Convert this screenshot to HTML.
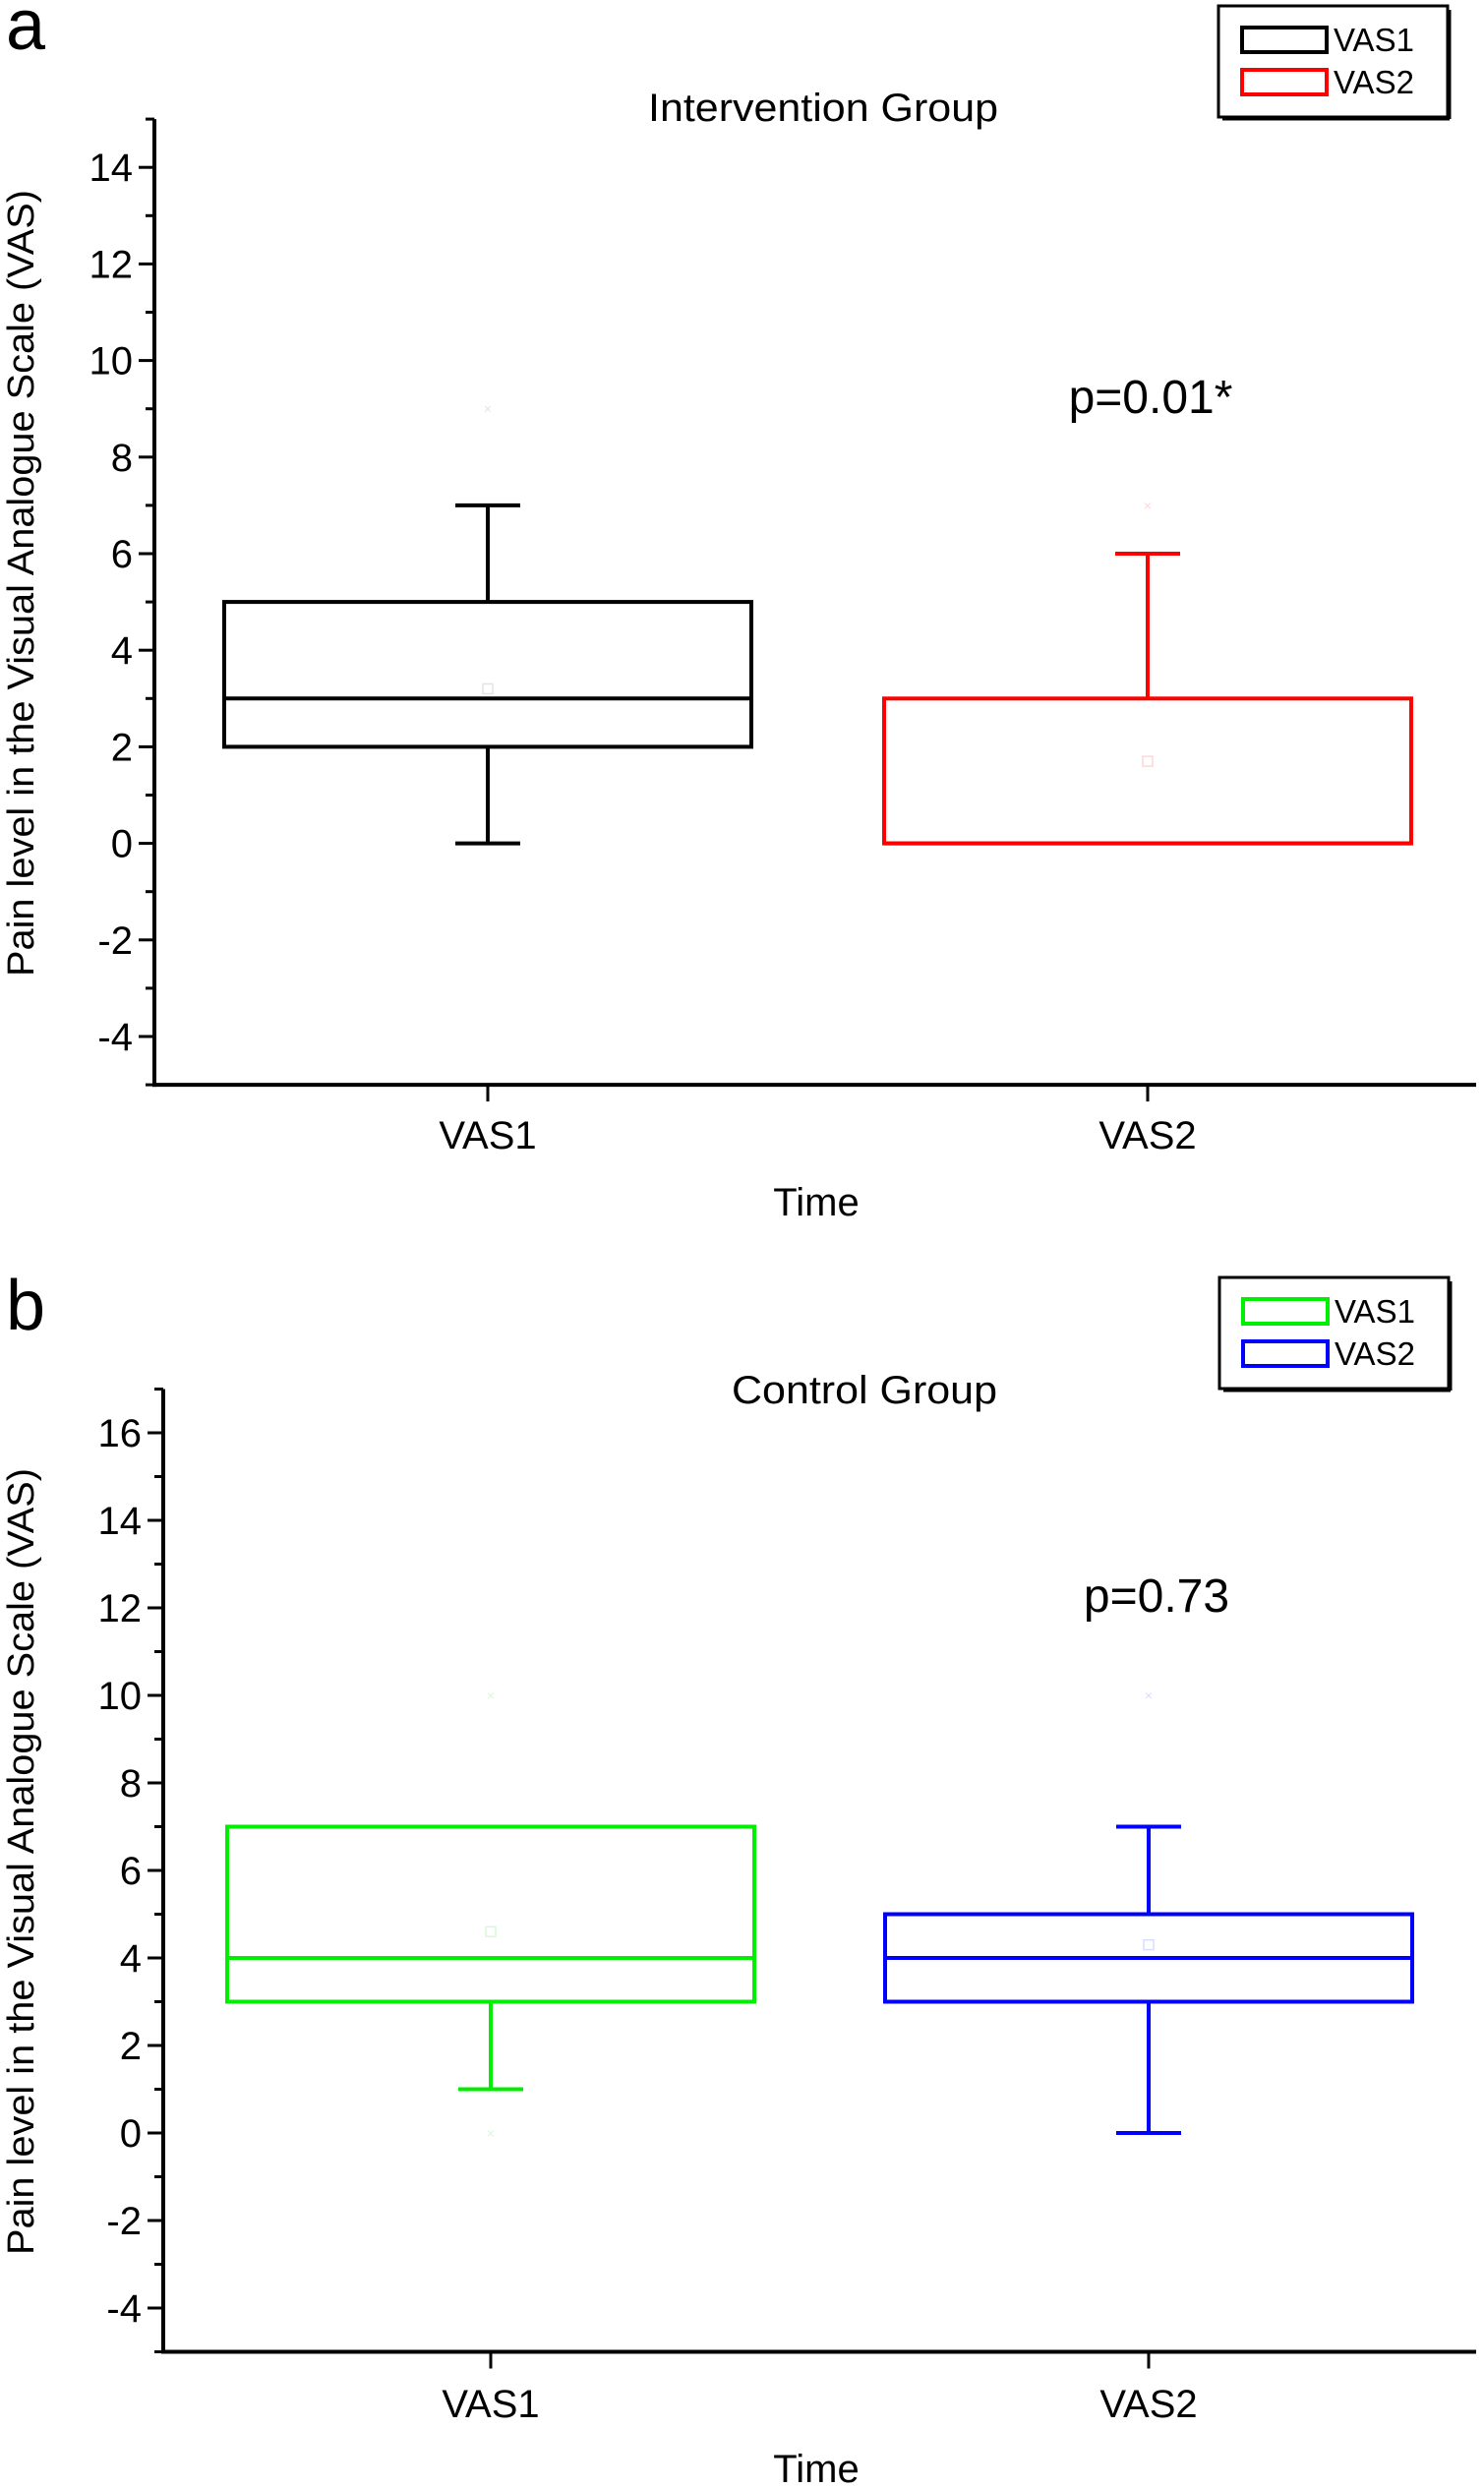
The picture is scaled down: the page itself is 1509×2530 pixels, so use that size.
<!DOCTYPE html>
<html><head><meta charset="utf-8"><style>
html,body{margin:0;padding:0;background:#fff;}
svg{display:block;font-family:"Liberation Sans",Arial,sans-serif;}
</style></head><body>
<svg id="chart" width="1509" height="2530" viewBox="0 0 1509 2530" xmlns="http://www.w3.org/2000/svg"></svg>
<script>
const categories = ["VAS1","VAS2"];
const aMin=[0,0], aQ1=[2,0], aMed=[3,0], aQ3=[5,3], aMax=[7,6], aMean=[3.2,1.7], aOut=[[9],[7]];
const bMin=[1,0], bQ1=[3,3], bMed=[4,4], bQ3=[7,5], bMax=[7,7], bMean=[4.6,4.3], bOut=[[10,0],[10]];
const aTicks=[-4,-2,0,2,4,6,8,10,12,14];
const bTicks=[-4,-2,0,2,4,6,8,10,12,14,16];
const NS="http://www.w3.org/2000/svg";
const svg=document.getElementById('chart');
function mk(tag,attrs,parent,text){const e=document.createElementNS(NS,tag);for(const k in attrs)e.setAttribute(k,attrs[k]);if(text!==undefined)e.textContent=text;(parent||svg).appendChild(e);return e;}

function panel(cfg){
  const g=mk('g',{});
  
  
  const y=v=>cfg.y0-(v)*cfg.unit;
  const xc=i=>cfg.cx[i];
  const lbl=mk('text',{x:6,y:cfg.letterY,'font-size':72,fill:'#000'},g,cfg.letter);
  
  
  const t=mk('text',{x:cfg.titleX,y:cfg.titleY,'font-size':40,'text-anchor':'middle',fill:'#000',textLength:cfg.titleLen,lengthAdjust:'spacingAndGlyphs'},g,cfg.title);
  
  
  const ya=mk('line',{x1:cfg.ax,y1:y(cfg.top),x2:cfg.ax,y2:y(cfg.bot)+2,stroke:'#000','stroke-width':4},g);
  
  
  const xa=mk('line',{x1:cfg.ax-2,y1:y(cfg.bot),x2:1501,y2:y(cfg.bot),stroke:'#000','stroke-width':4},g);
  
  
  for(let v=Math.ceil(cfg.bot);v<=cfg.top;v++){
    const major=cfg.ticks.includes(v);
    const tk=mk('line',{x1:cfg.ax-(major?16:9),y1:y(v),x2:cfg.ax,y2:y(v),stroke:'#000','stroke-width':3},g);
    
    
  }
  cfg.ticks.forEach(v=>{
    const tl=mk('text',{x:cfg.ax-22,y:y(v)+14,'font-size':40,'text-anchor':'end',fill:'#000'},g,String(v));
    
    
  });
  const yt=mk('text',{x:0,y:0,'font-size':38,'text-anchor':'middle',fill:'#000',textLength:cfg.ylabLen,lengthAdjust:'spacingAndGlyphs',transform:`translate(34,${cfg.ylabY}) rotate(-90)`},g,'Pain level in the Visual Analogue Scale (VAS)');
  
  
  categories.forEach((c,i)=>{
    const tk=mk('line',{x1:xc(i),y1:y(cfg.bot),x2:xc(i),y2:y(cfg.bot)+17,stroke:'#000','stroke-width':3},g);
    
    
    const tl=mk('text',{x:xc(i),y:cfg.catY,'font-size':40,'text-anchor':'middle',fill:'#000'},g,c);
    
    
  });
  const xt=mk('text',{x:830,y:cfg.timeY,'font-size':40,'text-anchor':'middle',fill:'#000'},g,'Time');
  
  
  categories.forEach((c,i)=>{
    const col=cfg.colors[i], hw=268, cap=33, sw=4;
    const bg=mk('g',{},g);
    
    
    mk('line',{x1:xc(i),y1:y(cfg.max[i]),x2:xc(i),y2:y(cfg.q3[i]),stroke:col,'stroke-width':sw},bg);
    mk('line',{x1:xc(i),y1:y(cfg.min[i]),x2:xc(i),y2:y(cfg.q1[i]),stroke:col,'stroke-width':sw},bg);
    if(cfg.max[i]>cfg.q3[i]) mk('line',{x1:xc(i)-cap,y1:y(cfg.max[i]),x2:xc(i)+cap,y2:y(cfg.max[i]),stroke:col,'stroke-width':sw},bg);
    if(cfg.min[i]<cfg.q1[i]) mk('line',{x1:xc(i)-cap,y1:y(cfg.min[i]),x2:xc(i)+cap,y2:y(cfg.min[i]),stroke:col,'stroke-width':sw},bg);
    mk('rect',{x:xc(i)-hw,y:y(cfg.q3[i]),width:2*hw,height:y(cfg.q1[i])-y(cfg.q3[i]),fill:'none',stroke:col,'stroke-width':sw},bg);
    mk('line',{x1:xc(i)-hw,y1:y(cfg.med[i]),x2:xc(i)+hw,y2:y(cfg.med[i]),stroke:col,'stroke-width':sw},bg);
    const mm=mk('rect',{x:xc(i)-5,y:y(cfg.mean[i])-5,width:10,height:10,fill:'none',stroke:cfg.faint[i],'stroke-width':1.5},bg);
    
    
    cfg.out[i].forEach(o=>{
      const om=mk('text',{x:xc(i),y:y(o)+5,'font-size':14,'text-anchor':'middle',fill:cfg.faint[i]},bg,'×');
      
      
    });
  });
  const pt=mk('text',{x:cfg.pX,y:cfg.pY+17,'font-size':48,'text-anchor':'middle',fill:'#000'},g,cfg.p);
  
  
  const lg=mk('g',{},g);
  
  
  mk('rect',{x:cfg.lx,y:cfg.ly,width:233,height:113,fill:'#fff',stroke:'#000','stroke-width':3},lg);
  mk('line',{x1:cfg.lx+4,y1:cfg.ly+113+2,x2:cfg.lx+235,y2:cfg.ly+113+2,stroke:'#000','stroke-width':3},lg);
  mk('line',{x1:cfg.lx+235,y1:cfg.ly+4,x2:cfg.lx+235,y2:cfg.ly+115,stroke:'#000','stroke-width':3},lg);
  categories.forEach((c,i)=>{
    const ry=cfg.ly+34+i*43;
    const le=mk('g',{},lg);
    
    
    mk('rect',{x:cfg.lx+24,y:ry-12,width:86,height:25,fill:'none',stroke:cfg.colors[i],'stroke-width':4},le);
    mk('text',{x:cfg.lx+117,y:ry+12,'font-size':33,fill:'#000'},le,c);
  });
}

panel({name:'panel-a-intervention',letter:'a',letterY:50,title:'Intervention Group',titleX:837,titleY:123,titleLen:356,
  ax:157,y0:857.6,unit:49.1,top:15,bot:-5,ticks:aTicks,cx:[496,1167],ylabY:593,ylabLen:800,catY:1168,timeY:1236,
  min:aMin,q1:aQ1,med:aMed,q3:aQ3,max:aMax,mean:aMean,out:aOut,
  colors:['#000','#ff0000'],faint:['#e4e4e4','#ffd6d6'],p:'p=0.01*',pX:1170,pY:403,lx:1239,ly:6});
panel({name:'panel-b-control',letter:'b',letterY:1352,title:'Control Group',titleX:879,titleY:1427,titleLen:270,
  ax:166,y0:2169,unit:44.5,top:17,bot:-5,ticks:bTicks,cx:[499,1168],ylabY:1893,ylabLen:800,catY:2458,timeY:2524,
  min:bMin,q1:bQ1,med:bMed,q3:bQ3,max:bMax,mean:bMean,out:bOut,
  colors:['#00ee00','#0000ff'],faint:['#d8f8d8','#dcdcff'],p:'p=0.73',pX:1176,pY:1622,lx:1240,ly:1299});
</script>
</body></html>
